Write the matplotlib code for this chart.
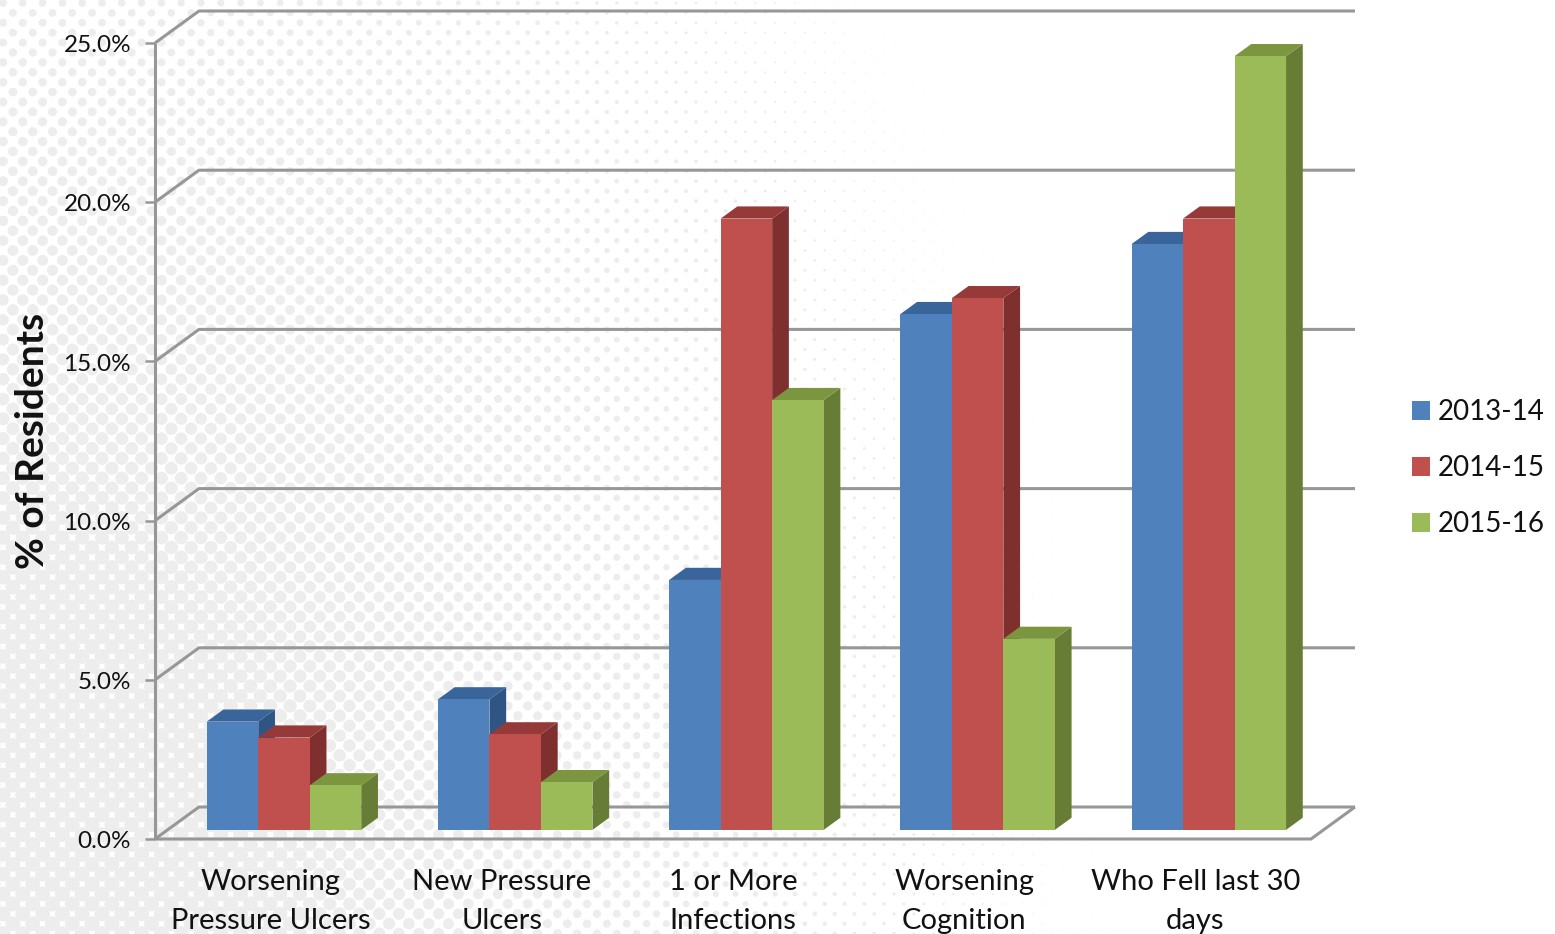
import numpy as np
import matplotlib
matplotlib.use('Agg')
import matplotlib.pyplot as plt
from matplotlib.patches import Patch, Polygon
from matplotlib.transforms import ScaledTranslation

plt.rcParams['font.family'] = ['Lato', 'DejaVu Sans']

categories = ['Worsening\nPressure Ulcers', 'New Pressure\nUlcers', '1 or More\nInfections',
              'Worsening\nCognition', 'Who Fell last 30\ndays']
years = ['2013-14', '2014-15', '2015-16']
values_2013 = [3.4, 4.1, 7.85, 16.2, 18.4]
values_2014 = [2.9, 3.0, 19.2, 16.7, 19.2]
values_2015 = [1.4, 1.5, 13.5, 6.0, 24.3]
y_ticks = [0, 5, 10, 15, 20, 25]

FRONT = ['#4f81bd', '#c0504d', '#9bbb59']
TOP = ['#3a659b', '#953a38', '#7c953f']
SIDE = ['#2f5585', '#7f2f2e', '#677d35']
GRID = '#979797'

W, H = 1555, 934
PX_X = 231.2    # pixels per category
PX_Y = 31.84    # pixels per percent
DX = 44 / PX_X  # wall depth in data units
DY = 32 / PX_Y
BAR_W = 51.5 / PX_X
D0, D1 = 0.30, 0.68  # front and back of the bars, as a share of the depth
NUDGE_X = 0.2 / PX_X
NUDGE_Y = 0.5 / PX_Y

fig = plt.figure(figsize=(W / 100, H / 100), dpi=100)

# halftone page background
bg = fig.add_axes([0, 0, 1, 1], zorder=-1)
bg.set_xlim(0, W)
bg.set_ylim(H, 0)
bg.axis('off')
u, v = np.meshgrid(np.arange(-100, 130), np.arange(-100, 130))
px = (u - v) * 9.9 + 300
py = (u + v) * 9.9 + 300
keep = (px > -20) & (px < W + 20) & (py > -20) & (py < H + 20)
px, py = px[keep], py[keep]
dist = np.sqrt((px / 1150) ** 2 + ((H - py) / 1700) ** 2)
radius = np.minimum(10 * np.clip(1 - dist, 0, 1) ** 1.2, 7.5)
bg.scatter(px, py, s=(2 * radius * 0.72) ** 2, c='#ededed', linewidths=0)

ax = fig.add_axes([155 / W, (H - 839) / H, 1156 / W, 796 / H])
ax.set_xlim(-0.5, 4.5)
ax.set_ylim(0, 25)
ax.patch.set_alpha(0)
for s in ax.spines.values():
    s.set_visible(False)

# walls and floor
line_kw = dict(color=GRID, lw=2.2, clip_on=False, solid_capstyle='butt', zorder=1)
for t in y_ticks:
    ax.plot([-0.5, -0.5 + DX, 4.5 + DX], [t, t + DY, t + DY], **line_kw)
ax.plot([-0.5, -0.5], [0, 25], **line_kw)
ax.plot([-0.5, 4.5, 4.5 + DX], [0, 0, DY], **line_kw)

# bars, left to right so the later ones cover the side of the earlier ones
series = [values_2013, values_2014, values_2015]
for i in range(len(categories)):
    for j, vals in enumerate(series):
        x0 = i + (j - 1.5) * BAR_W + D0 * DX + NUDGE_X
        x1 = x0 + BAR_W
        y0 = D0 * DY - NUDGE_Y
        y1 = y0 + vals[i]
        ox = (D1 - D0) * DX
        oy = (D1 - D0) * DY
        z = 3 + i * 3 + j * 3
        ax.add_patch(Polygon([(x1, y0), (x1 + ox, y0 + oy), (x1 + ox, y1 + oy), (x1, y1)],
                             fc=SIDE[j], ec='none', clip_on=False, zorder=z))
        ax.add_patch(Polygon([(x0, y1), (x1, y1), (x1 + ox, y1 + oy), (x0 + ox, y1 + oy)],
                             fc=TOP[j], ec='none', clip_on=False, zorder=z))
        ax.add_patch(Polygon([(x0, y0), (x1, y0), (x1, y1), (x0, y1)],
                             fc=FRONT[j], ec='none', clip_on=False, zorder=z + 1))

ax.set_xticks(range(len(categories)))
ax.set_xticklabels(categories, fontsize=21, linespacing=1.62, color='#111111')
ax.tick_params(axis='x', length=0, pad=21.6)
ax.set_yticks(y_ticks)
ax.set_yticklabels([f'{t:.1f}%' for t in y_ticks], fontsize=17.5, color='#111111')
ax.tick_params(axis='y', length=7.2, width=1.8, color=GRID, pad=10)
for lab in ax.get_yticklabels():
    lab.set_transform(lab.get_transform() + ScaledTranslation(0, -0.5 / 72, fig.dpi_scale_trans))

ax.set_ylabel('% of Residents', fontsize=28, fontweight='bold', color='#111111')
ax.yaxis.set_label_coords((50 - 155) / 1156, (839 - 441) / 796)

handles = [Patch(fc=c, ec='none') for c in FRONT]
ax.legend(handles, years, loc='center left', bbox_to_anchor=(1412 / W, (H - 468) / H),
          bbox_transform=fig.transFigure, frameon=False, fontsize=20, borderpad=0,
          borderaxespad=0, handlelength=0.65, handleheight=0.65, handletextpad=0.29,
          labelspacing=1.08, labelcolor='#111111')

fig.savefig('out.png', dpi=100)
